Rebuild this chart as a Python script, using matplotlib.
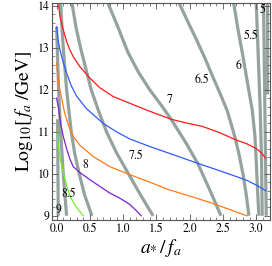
import numpy as np
import matplotlib
matplotlib.use("Agg")
import matplotlib.pyplot as plt
from matplotlib.ticker import MultipleLocator

plt.rcParams['font.family'] = ['STIXGeneral', 'DejaVu Serif']
plt.rcParams['mathtext.fontset'] = 'stix'

# coloured curves, (theta, log10 fa)
red_x = [0.03, 0.05, 0.08, 0.10, 0.15, 0.20, 0.25, 0.35, 0.50, 0.65, 0.85, 1.10,
         1.35, 1.50, 1.72, 1.95, 2.19, 2.45, 2.69, 2.85, 2.99, 3.08, 3.14]
red_y = [14.02, 13.75, 13.55, 13.43, 13.15, 12.95, 12.79, 12.55, 12.28, 12.05, 11.84, 11.68,
         11.52, 11.43, 11.30, 11.21, 11.13, 10.98, 10.81, 10.72, 10.61, 10.50, 10.37]
blue_x = [0.0, 0.02, 0.05, 0.10, 0.15, 0.22, 0.30, 0.45, 0.70, 0.90, 1.10, 1.40,
          1.69, 2.12, 2.40, 2.69, 2.85, 2.99, 3.08, 3.14]
blue_y = [13.5, 13.2, 12.95, 12.65, 12.40, 12.10, 11.85, 11.55, 11.20, 11.00, 10.83, 10.65,
          10.49, 10.25, 10.10, 9.94, 9.85, 9.74, 9.66, 9.60]
orange_x = [0.0, 0.02, 0.04, 0.08, 0.12, 0.18, 0.25, 0.35, 0.55, 0.80, 1.10, 1.40,
            1.69, 2.00, 2.30, 2.60, 2.86]
orange_y = [12.65, 12.30, 12.08, 11.76, 11.45, 11.15, 10.89, 10.68, 10.41, 10.17, 9.98, 9.80,
            9.62, 9.47, 9.32, 9.15, 9.0]
purple_x = [0.0, 0.03, 0.06, 0.10, 0.15, 0.20, 0.25, 0.35, 0.50, 0.65, 0.80, 0.95,
            1.10, 1.20, 1.27]
purple_y = [11.8, 11.55, 11.20, 10.89, 10.60, 10.35, 10.17, 10.03, 9.86, 9.70, 9.54, 9.42,
            9.27, 9.12, 9.0]
green_x = [0.01, 0.02, 0.04, 0.06, 0.08, 0.12, 0.16, 0.20, 0.30, 0.40]
green_y = [10.97, 10.75, 10.50, 10.32, 10.17, 9.90, 9.67, 9.46, 9.20, 9.0]

# gray contours: label -> (x list, y list)
contours = {
    "9":   ([0.015, 0.02, 0.025], [11.3, 10.0, 9.0]),
    "8.5": ([0.0, 0.01, 0.02, 0.03, 0.045, 0.06, 0.08, 0.10, 0.125, 0.15],
            [13.5, 13.0, 12.5, 12.0, 11.5, 11.0, 10.5, 10.0, 9.5, 9.0]),
    "8":   ([0.06, 0.08, 0.10, 0.125, 0.15, 0.185, 0.22, 0.27, 0.34, 0.42, 0.53],
            [14.07, 13.5, 13.0, 12.5, 12.0, 11.5, 11.0, 10.5, 10.0, 9.5, 9.0]),
    "7.5": ([0.23, 0.29, 0.36, 0.44, 0.52, 0.63, 0.75, 0.90, 1.08, 1.26, 1.45],
            [14.07, 13.5, 13.0, 12.5, 12.0, 11.5, 11.0, 10.5, 10.0, 9.5, 9.0]),
    "7":   ([0.77, 0.92, 1.07, 1.23, 1.40, 1.57, 1.72, 1.95, 2.12, 2.30, 2.47],
            [14.07, 13.5, 12.9, 12.42, 12.0, 11.64, 11.3, 10.72, 10.25, 9.62, 9.0]),
    "6.5": ([1.84, 1.97, 2.10, 2.23, 2.35, 2.46, 2.56, 2.63, 2.69, 2.75, 2.80, 2.85, 2.89],
            [14.07, 13.63, 13.2, 12.75, 12.3, 11.9, 11.52, 11.15, 10.81, 10.4, 10.0, 9.5, 9.0]),
    "6":   ([2.66, 2.73, 2.80, 2.87, 2.94, 2.98, 3.00, 3.02, 3.04],
            [14.07, 13.4, 12.8, 12.15, 11.52, 10.9, 10.3, 9.6, 9.0]),
    "5.5": ([3.00, 3.03, 3.06, 3.08, 3.09], [14.07, 12.8, 11.52, 10.3, 9.0]),
    "5":   ([3.11, 3.13, 3.15], [14.07, 11.5, 9.0]),
}
short_x = [3.16, 3.16]
short_y = [14.07, 11.9]

label_pos = {
    "9": (0.03, 9.13), "8.5": (0.18, 9.52), "8": (0.43, 10.2),
    "7.5": (1.2, 10.41), "7": (1.70, 11.76), "6.5": (2.19, 12.24),
    "6": (2.74, 12.56), "5.5": (2.92, 13.27), "5": (3.1, 13.9),
}

fig = plt.figure(figsize=(2.72, 2.66), dpi=100)
ax = fig.add_axes([0.191, 0.173, 0.800, 0.816])

gray = '#95a39f'
for lab, (cx, cy) in contours.items():
    ax.plot(cx, cy, color=gray, lw=2.3, solid_capstyle='butt', zorder=1)
ax.plot(short_x, short_y, color=gray, lw=2.3, solid_capstyle='butt', zorder=1)

ax.plot(red_x, red_y, color='#ff1a1a', lw=0.9, zorder=2)
ax.plot(blue_x, blue_y, color='#2f5bff', lw=0.9, zorder=2)
ax.plot(orange_x, orange_y, color='#ff7a1a', lw=0.9, zorder=2)
ax.plot(purple_x, purple_y, color='#7a22d8', lw=0.9, zorder=2)
ax.plot(green_x, green_y, color='#6ef02a', lw=0.9, zorder=2)

for lab, (lx, ly) in label_pos.items():
    ax.text(lx, ly, lab, fontsize=8.5, ha='center', va='center', zorder=3)

ax.set_xlim(-0.07, 3.2)
ax.set_ylim(8.9, 14.07)
ax.xaxis.set_major_locator(MultipleLocator(0.5))
ax.xaxis.set_minor_locator(MultipleLocator(0.1))
ax.yaxis.set_major_locator(MultipleLocator(1))
ax.yaxis.set_minor_locator(MultipleLocator(0.2))
ax.xaxis.set_major_formatter(plt.FuncFormatter(lambda v, p: f"{v:.1f}"))
ax.tick_params(which='both', direction='in', top=True, right=True,
               labelsize=8.5, color='#555555', pad=2)
ax.tick_params(which='major', length=4, width=0.6)
ax.tick_params(which='minor', length=2, width=0.5)
for s in ax.spines.values():
    s.set_color('#555555')
    s.set_linewidth(0.8)

ax.set_xlabel(r'$a_{*}\,/\,f_a$', fontsize=14, labelpad=2)
ax.set_ylabel(r'$\mathrm{Log}_{10}[\,f_a\;/\mathrm{GeV}]$', fontsize=14, labelpad=2)

fig.savefig('out.png', dpi=100)
